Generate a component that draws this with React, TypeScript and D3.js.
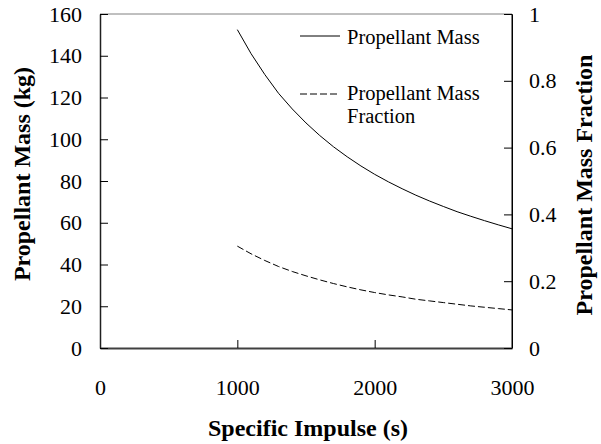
import * as d3 from "d3";
import { useEffect, useRef } from "react";

// specific impulse (s) sampled along the curves
const isp = [1000, 1100, 1200, 1300, 1400, 1500, 1600, 1700, 1800, 1900, 2000, 2100, 2200, 2300, 2400, 2500, 2600, 2700, 2800, 2900, 3000];
// propellant mass (kg), left axis
const propMass = [152.5, 141, 131, 122, 114.5, 107.8, 101.8, 96.4, 91.6, 87.2, 83.2, 79.6, 76.3, 73.2, 70.4, 67.8, 65.3, 63.1, 61, 59, 57.1];
// propellant mass fraction, right axis
const propFraction = [0.305, 0.282, 0.262, 0.244, 0.229, 0.216, 0.204, 0.193, 0.183, 0.174, 0.166, 0.159, 0.153, 0.146, 0.141, 0.136, 0.131, 0.126, 0.122, 0.118, 0.114];

const xTicks = [0, 1000, 2000, 3000];
const yLeftTicks = [0, 20, 40, 60, 80, 100, 120, 140, 160];
const yRightTicks = [0, 0.2, 0.4, 0.6, 0.8, 1];

const FONT = "'Liberation Serif', 'Times New Roman', serif";

export default function App() {
    const ref = useRef<SVGSVGElement | null>(null);

    useEffect(() => {
        if (!ref.current) return;
        const svg = d3.select(ref.current);
        svg.selectAll("*").remove();

        const left = 100, right = 512, top = 14, bottom = 348;

        const x = d3.scaleLinear().domain([0, 3000]).range([left, right]);
        const yL = d3.scaleLinear().domain([0, 160]).range([bottom, top]);
        const yR = d3.scaleLinear().domain([0, 1]).range([bottom, top]);

        // frame
        svg.append("line").attr("x1", left).attr("x2", right).attr("y1", top).attr("y2", top)
            .attr("stroke", "#808080").attr("stroke-width", 1);
        svg.append("line").attr("x1", right).attr("x2", right).attr("y1", top).attr("y2", bottom)
            .attr("stroke", "#000").attr("stroke-width", 1);

        // axes
        const gx = svg.append("g")
            .attr("transform", `translate(0,${bottom})`)
            .call(d3.axisBottom(x).tickValues(xTicks).tickFormat(d3.format("d")).tickSizeInner(-8).tickSizeOuter(0).tickPadding(31));
        const gl = svg.append("g")
            .attr("transform", `translate(${left},0)`)
            .call(d3.axisLeft(yL).tickValues(yLeftTicks).tickSizeInner(-8).tickSizeOuter(0).tickPadding(18));
        const gr = svg.append("g")
            .attr("transform", `translate(${right},0)`)
            .call(d3.axisRight(yR).tickValues(yRightTicks)
                .tickFormat((d) => String(+(+d).toFixed(1)))
                .tickSizeInner(-8).tickSizeOuter(0).tickPadding(17));

        [gx, gl, gr].forEach((g) => {
            g.selectAll("text").attr("font-family", FONT).attr("font-size", 22).attr("fill", "#000");
            g.selectAll(".tick line").attr("stroke", "#000");
            g.select(".domain").attr("stroke", "#000");
        });
        gx.select(".domain").attr("stroke", "#404040").attr("stroke-width", 2);
        gl.select(".domain").attr("stroke", "#202020").attr("stroke-width", 1.5);

        // lines
        const massLine = d3.line<number>().x((_, i) => x(isp[i])).y((d) => yL(d));
        const fracLine = d3.line<number>().x((_, i) => x(isp[i])).y((d) => yR(d));

        svg.append("path").datum(propMass).attr("d", massLine)
            .attr("fill", "none").attr("stroke", "#000").attr("stroke-width", 1);
        svg.append("path").datum(propFraction).attr("d", fracLine)
            .attr("fill", "none").attr("stroke", "#000").attr("stroke-width", 1)
            .attr("stroke-dasharray", "7,3");

        // legend
        const lg = svg.append("g").attr("font-family", FONT).attr("font-size", 20.5).attr("fill", "#000");
        lg.append("line").attr("x1", 300).attr("x2", 340).attr("y1", 36).attr("y2", 36)
            .attr("stroke", "#000").attr("stroke-width", 1);
        lg.append("text").attr("x", 347).attr("y", 44).text("Propellant Mass");
        lg.append("line").attr("x1", 300).attr("x2", 340).attr("y1", 94).attr("y2", 94)
            .attr("stroke", "#000").attr("stroke-width", 1).attr("stroke-dasharray", "7,3");
        lg.append("text").attr("x", 347).attr("y", 100).text("Propellant Mass");
        lg.append("text").attr("x", 347).attr("y", 123).text("Fraction");

        // axis titles
        const tt = svg.append("g").attr("font-family", FONT).attr("font-size", 24)
            .attr("font-weight", "bold").attr("fill", "#000").attr("text-anchor", "middle");
        tt.append("text").attr("x", 308).attr("y", 436).text("Specific Impulse (s)");
        tt.append("text").attr("transform", "translate(30,174) rotate(-90)").text("Propellant Mass (kg)");
        tt.append("text").attr("transform", "translate(592,185) rotate(-90)").text("Propellant Mass Fraction");
    }, []);

    return (
        <svg ref={ref} width={601} height={444}
            style={{ position: "absolute", left: 0, top: 0, background: "#fff" }} />
    );
}
